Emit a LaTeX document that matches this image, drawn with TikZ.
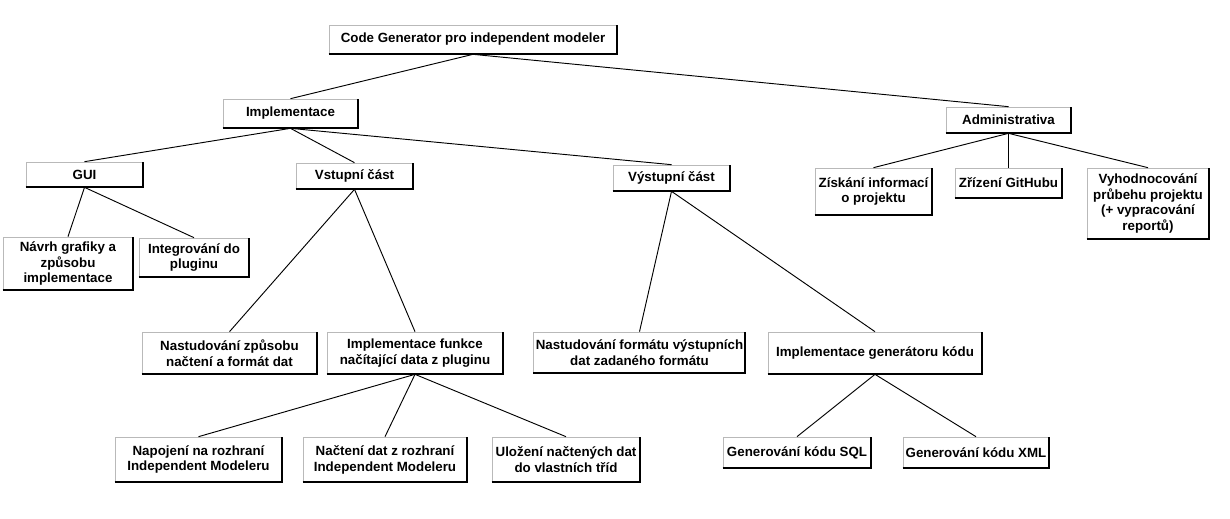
\documentclass[tikz,border=0pt]{standalone}
\usepackage{fontspec}
\setmainfont{Liberation Sans}
\tikzset{
  box/.style={draw=gray!55, fill=white, line width=0.5pt, inner sep=1.5pt, align=center,
    font=\fontsize{10}{11.9}\selectfont\bfseries, text=black},
  link/.style={draw=black, line width=0.7pt},
  edgeline/.style={draw=black, line width=1.5pt}
}
\newcommand\bx[6]{\node[box, minimum width={(#4-#2)*0.75pt}, minimum height={(#5-#3)*0.75pt}] (#1) at ({(#2+#4)/2},{(#3+#5)/2}) {#6};}
\begin{document}
\begin{tikzpicture}[x=0.75pt, y=-0.75pt]
\useasboundingbox[fill=white] (0,0) rectangle (1230,518);
% boxes
\bx{root}{329}{25}{617}{54}{Code Generator pro independent modeler}
\bx{impl}{223}{99}{358}{128}{Implementace}
\bx{admin}{946}{107}{1071}{133}{Administrativa}
\bx{gui}{26}{162}{143}{187}{GUI}
\bx{vstup}{296}{163}{413}{189}{Vstupní část}
\bx{vystup}{613}{165}{730}{191}{Výstupní část}
\bx{ziskani}{815}{168}{932}{215}{Získání informací\\o projektu}
\bx{zrizeni}{955}{168}{1062}{198}{Zřízení GitHubu}
\bx{vyhod}{1087}{168}{1209}{239}{Vyhodnocování\\průbehu projektu\\(+ vypracování\\reportů)}
\bx{navrh}{3}{237}{133}{290}{Návrh grafiky a\\způsobu\\implementace}
\bx{integ}{139}{238}{249}{277}{Integrování do\\pluginu}
\bx{nastzp}{142}{332}{317}{374}{Nastudování způsobu\\načtení a formát dat}
\bx{implfun}{327}{332}{503}{374}{Implementace funkce\\načítající data z pluginu}
\bx{nastfor}{534}{332}{745}{373}{Nastudování formátu výstupních\\dat zadaného formátu}
\bx{implgen}{768}{332}{982}{374}{Implementace generátoru kódu}
\bx{napoj}{115}{437}{282}{482}{Napojení na rozhraní\\Independent Modeleru}
\bx{nacteni}{303}{437}{467}{482}{Načtení dat z rozhraní\\Independent Modeleru}
\bx{ulozeni}{492}{437}{640}{482}{Uložení načtených dat\\do vlastních tříd}
\bx{sql}{723}{437}{871}{468}{Generování kódu SQL}
\bx{xml}{903}{437}{1049}{468}{Generování kódu XML}
% black right/bottom edges
\foreach \n in {root,impl,admin,gui,vstup,vystup,ziskani,zrizeni,vyhod,navrh,integ,nastzp,implfun,nastfor,implgen,napoj,nacteni,ulozeni,sql,xml}{
  \draw[edgeline] ([yshift=0.5pt]\n.south west) -- ([xshift=-0.5pt,yshift=0.5pt]\n.south east) -- ([xshift=-0.5pt]\n.north east);
}
% connectors
\foreach \a/\b in {root/impl,root/admin,impl/gui,impl/vstup,impl/vystup,gui/navrh,gui/integ,vstup/nastzp,vstup/implfun,implfun/napoj,implfun/nacteni,implfun/ulozeni,vystup/nastfor,vystup/implgen,implgen/sql,implgen/xml,admin/ziskani,admin/zrizeni,admin/vyhod}{
  \draw[link] (\a.south) -- (\b.north);
}
\end{tikzpicture}
\end{document}
